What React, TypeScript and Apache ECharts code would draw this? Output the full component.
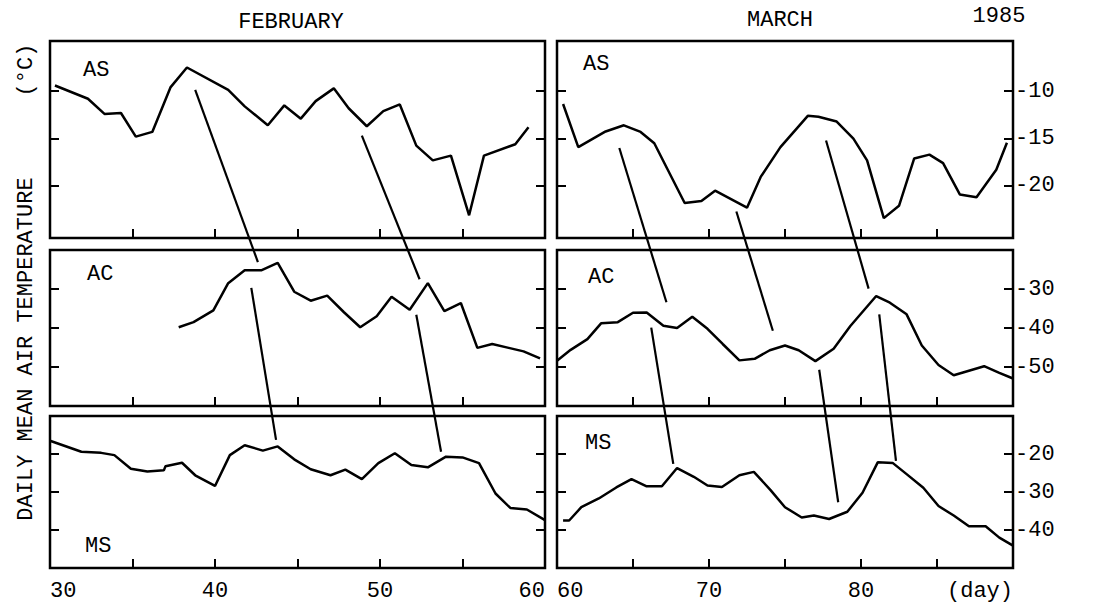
import React, { useEffect, useRef } from "react";
import * as echarts from "echarts";

// ---------- DATA (day of year, daily mean air temperature °C) ----------
const febAsDays = [30.3, 32.3, 33.3, 34.3, 35.2, 36.2, 37.3, 38.3, 40.8, 41.8, 43.2, 44.2, 45.2, 46.1, 47.2, 48.1, 49.2, 50.2, 51.2, 52.2, 53.2, 54.3, 55.4, 56.3, 58.2, 59.0];
const febAsTemps = [-9.4, -10.8, -12.4, -12.3, -14.8, -14.3, -9.6, -7.5, -9.85, -11.6, -13.6, -11.5, -12.9, -11.05, -9.7, -11.8, -13.7, -12.1, -11.4, -15.75, -17.3, -16.8, -23.1, -16.8, -15.6, -13.8];

const febAcDays = [37.8, 38.7, 39.9, 40.8, 41.8, 42.8, 43.8, 44.8, 45.8, 46.8, 47.8, 48.8, 49.8, 50.7, 51.8, 52.9, 53.9, 54.9, 55.9, 56.8, 57.8, 58.7, 59.7];
const febAcTemps = [-39.8, -38.5, -35.5, -28.5, -25.2, -25.2, -23.3, -30.7, -33.0, -31.7, -35.9, -39.8, -37.0, -32.0, -35.3, -28.5, -35.7, -33.6, -45.1, -44.1, -45.1, -46.0, -47.8];

const febMsDays = [30.0, 31.9, 33.1, 33.9, 34.9, 35.9, 36.9, 37.0, 38.0, 38.8, 40.0, 40.9, 41.8, 42.9, 43.8, 44.8, 45.8, 47.0, 47.9, 48.9, 49.9, 50.9, 51.9, 52.9, 54.0, 55.0, 56.0, 57.0, 57.9, 58.9, 60.0];
const febMsTemps = [-16.5, -19.4, -19.7, -20.3, -23.9, -24.6, -24.3, -23.2, -22.3, -25.6, -28.4, -20.3, -17.7, -19.1, -18.0, -21.4, -24.0, -25.6, -24.1, -26.6, -22.4, -19.8, -22.9, -23.5, -20.7, -20.9, -22.4, -30.4, -34.2, -34.6, -37.4];

const marAsDays = [60.4, 61.4, 63.2, 64.4, 65.5, 66.4, 68.4, 69.5, 70.4, 72.5, 73.4, 74.7, 76.5, 77.2, 78.4, 79.5, 80.4, 81.5, 82.5, 83.5, 84.5, 85.4, 86.5, 87.6, 88.9, 89.6];
const marAsTemps = [-11.35, -15.9, -14.25, -13.6, -14.3, -15.5, -21.8, -21.6, -20.5, -22.3, -19.05, -15.9, -12.6, -12.7, -13.2, -15.0, -17.3, -23.4, -22.1, -17.1, -16.7, -17.6, -20.9, -21.2, -18.3, -15.45];

const marAcDays = [60.0, 60.9, 62.0, 62.9, 64.0, 65.0, 65.9, 67.0, 67.9, 68.9, 69.9, 70.9, 72.0, 73.0, 74.0, 75.0, 75.9, 77.0, 78.2, 79.3, 81.0, 81.9, 83.0, 84.0, 85.1, 86.1, 88.1, 89.1, 90.0];
const marAcTemps = [-48.4, -45.6, -42.85, -38.8, -38.5, -36.1, -36.0, -39.4, -40.0, -37.1, -40.2, -44.1, -48.3, -47.9, -45.7, -44.5, -45.7, -48.5, -45.3, -39.5, -31.8, -33.5, -36.5, -44.5, -49.5, -52.1, -49.8, -51.5, -52.95];

const marMsDays = [60.4, 60.8, 61.6, 62.75, 63.9, 64.9, 65.9, 66.9, 67.9, 69.0, 69.9, 70.85, 72.0, 72.95, 74.05, 75.0, 76.1, 76.9, 77.9, 79.1, 80.1, 81.1, 82.1, 83.0, 84.1, 85.1, 86.1, 87.1, 88.2, 89.1, 90.0];
const marMsTemps = [-37.5, -37.5, -34.0, -31.7, -28.8, -26.6, -28.5, -28.5, -23.7, -26.0, -28.3, -28.7, -25.6, -24.7, -29.5, -34.0, -36.7, -36.2, -37.1, -35.2, -30.2, -22.2, -22.4, -25.3, -28.9, -33.7, -36.2, -39.0, -39.0, -42.0, -44.1];

// tick values
const asTicks = [-10, -15, -20];
const acTicks = [-30, -40, -50];
const msTicks = [-20, -30, -40];
const febDayTicks = [30, 40, 50, 60];
const marDayTicks = [60, 70, 80, 90];

// propagation lines: [panelIndex, day, temp] -> [panelIndex, day, temp]
// panel index: 0 Feb AS, 1 Mar AS, 2 Feb AC, 3 Mar AC, 4 Feb MS, 5 Mar MS
const propagationLines: [number, number, number, number, number, number][] = [
  [0, 38.8, -9.85, 2, 42.6, -23.1],
  [2, 42.2, -29.7, 4, 43.7, -16.3],
  [0, 48.9, -14.7, 2, 52.4, -27.5],
  [2, 52.2, -36.6, 4, 53.7, -19.4],
  [1, 64.1, -16.0, 3, 67.2, -33.4],
  [3, 66.2, -39.9, 5, 67.65, -22.6],
  [1, 71.8, -22.7, 3, 74.2, -40.7],
  [3, 77.25, -50.7, 5, 78.5, -32.7],
  [1, 77.7, -15.2, 3, 80.5, -29.9],
  [3, 81.2, -36.5, 5, 82.3, -21.8],
];

const FONT = '"Liberation Mono", "DejaVu Sans Mono", monospace';
const FS = 22;

type Panel = {
  left: number; top: number; width: number; height: number;
  xMin: number; xMax: number; yMin: number; yMax: number;
  ticks: number[]; days: number[]; temps: number[];
  rightLabels: boolean; bottomLabels: boolean; name: string; nameX: number; nameY: number;
};

const LEFT_COL = { left: 50, width: 495 };
const RIGHT_COL = { left: 557, width: 456 };
const ROWS = [
  { top: 41, height: 197 },
  { top: 250, height: 156 },
  { top: 416, height: 157 },
];

const panels: Panel[] = [
  { ...LEFT_COL, ...ROWS[0], xMin: 30, xMax: 60, yMin: -25.5, yMax: -4.7, ticks: asTicks, days: febAsDays, temps: febAsTemps, rightLabels: false, bottomLabels: false, name: "AS", nameX: 83, nameY: 70 },
  { ...RIGHT_COL, ...ROWS[0], xMin: 60, xMax: 90, yMin: -25.5, yMax: -4.7, ticks: asTicks, days: marAsDays, temps: marAsTemps, rightLabels: true, bottomLabels: false, name: "AS", nameX: 583, nameY: 64 },
  { ...LEFT_COL, ...ROWS[1], xMin: 30, xMax: 60, yMin: -60, yMax: -20, ticks: acTicks, days: febAcDays, temps: febAcTemps, rightLabels: false, bottomLabels: false, name: "AC", nameX: 87, nameY: 274 },
  { ...RIGHT_COL, ...ROWS[1], xMin: 60, xMax: 90, yMin: -60, yMax: -20, ticks: acTicks, days: marAcDays, temps: marAcTemps, rightLabels: true, bottomLabels: false, name: "AC", nameX: 588, nameY: 277 },
  { ...LEFT_COL, ...ROWS[2], xMin: 30, xMax: 60, yMin: -50, yMax: -10, ticks: msTicks, days: febMsDays, temps: febMsTemps, rightLabels: false, bottomLabels: true, name: "MS", nameX: 85, nameY: 546 },
  { ...RIGHT_COL, ...ROWS[2], xMin: 60, xMax: 90, yMin: -50, yMax: -10, ticks: msTicks, days: marMsDays, temps: marMsTemps, rightLabels: true, bottomLabels: true, name: "MS", nameX: 585, nameY: 443 },
];

const tickStyle = { color: "#000", width: 2 };

function buildOption() {
  const grid = panels.map((p) => ({
    left: p.left, top: p.top, width: p.width, height: p.height,
    show: true, borderColor: "#000", borderWidth: 2.5, backgroundColor: "transparent",
  }));
  const xAxis = panels.map((p, i) => {
    const isFeb = p.xMin === 30;
    const labelVals = isFeb ? febDayTicks : marDayTicks;
    return {
      gridIndex: i, type: "value", min: p.xMin, max: p.xMax, interval: 5, position: "bottom",
      axisLine: { show: false },
      axisTick: { show: true, inside: true, length: 9, lineStyle: tickStyle },
      splitLine: { show: false },
      axisLabel: p.bottomLabels
        ? {
            show: true, fontFamily: FONT, fontSize: FS, color: "#000", margin: 12,
            showMinLabel: true, showMaxLabel: true,
            alignMinLabel: "left", alignMaxLabel: "right",
            formatter: (v: number) => (labelVals.indexOf(v) >= 0 ? (v === 90 ? "(day)" : String(v)) : ""),
          }
        : { show: false },
    };
  });
  const yAxis: any[] = [];
  panels.forEach((p, i) => {
    const base = {
      gridIndex: i, type: "value", min: p.yMin, max: p.yMax,
      axisLine: { show: false }, splitLine: { show: false },
      axisTick: { show: true, inside: true, length: 9, lineStyle: tickStyle, customValues: p.ticks },
    };
    yAxis.push({ ...base, position: "left", axisLabel: { show: false } });
    yAxis.push({
      ...base, position: "right",
      axisLabel: p.rightLabels
        ? { show: true, customValues: p.ticks, fontFamily: FONT, fontSize: FS, color: "#000", margin: 2 }
        : { show: false },
    });
  });
  const series = panels.map((p, i) => ({
    type: "line", xAxisIndex: i, yAxisIndex: i * 2,
    data: p.days.map((d, k) => [d, p.temps[k]]),
    symbol: "none", lineStyle: { color: "#000", width: 2.5 }, clip: true, silent: true,
  }));
  return { animation: false, grid, xAxis, yAxis, series };
}

function textEl(text: string, x: number, y: number, align = "center", rotation = 0) {
  return {
    type: "text", x, y, rotation, silent: true,
    style: { text, font: `${FS}px ${FONT}`, fill: "#000", textAlign: align, textVerticalAlign: "middle" },
  };
}

export default function App() {
  const ref = useRef<HTMLDivElement>(null);
  useEffect(() => {
    if (!ref.current) return;
    const chart = echarts.init(ref.current, undefined, { renderer: "svg" });
    chart.setOption(buildOption() as any);

    const graphics: any[] = [
      textEl("FEBRUARY", 291, 22),
      textEl("MARCH", 780, 20),
      textEl("1985", 999, 16),
      textEl("DAILY MEAN AIR TEMPERATURE", 26, 349, "center", Math.PI / 2),
      textEl("(°C)", 26, 70, "center", Math.PI / 2),
      ...panels.map((p) => textEl(p.name, p.nameX, p.nameY, "left")),
    ];
    propagationLines.forEach(([pa, da, ta, pb, db, tb]) => {
      const a = chart.convertToPixel({ seriesIndex: pa } as any, [da, ta]) as number[];
      const b = chart.convertToPixel({ seriesIndex: pb } as any, [db, tb]) as number[];
      graphics.push({
        type: "line", silent: true,
        shape: { x1: a[0], y1: a[1], x2: b[0], y2: b[1] },
        style: { stroke: "#000", lineWidth: 2.2 },
      });
    });
    chart.setOption({ graphic: { elements: graphics } } as any);
    return () => chart.dispose();
  }, []);
  return (
    <div
      ref={ref}
      style={{ position: "absolute", left: 0, top: 0, width: 1105, height: 602, background: "#fff" }}
    />
  );
}
